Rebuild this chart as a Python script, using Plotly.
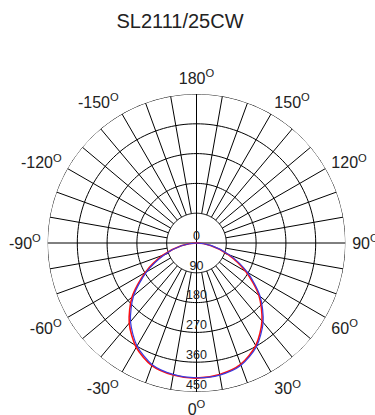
import plotly.graph_objects as go

# Luminous intensity (cd) per C-plane, gamma angle in degrees
gamma = [-90, -80, -70, -60, -50, -40, -30, -20, -10, 0,
         10, 20, 30, 40, 50, 60, 70, 80, 90]
c0_180 = [0, 47, 108, 179, 254, 316, 364, 394, 405, 408,
          403, 390, 358, 308, 246, 172, 102, 43, 0]
c90_270 = [0, 44, 103, 174, 248, 310, 359, 391, 403, 407,
           405, 393, 362, 313, 251, 178, 107, 46, 0]

# Radial rings and their labels
ring_values = [90, 180, 270, 360, 450]
radial_labels = ["0", "90", "180", "270", "360", "450"]
radial_label_r = [0, 90, 180, 270, 360, 450]

# Angular labels
angle_ticks = [0, 30, 60, 90, 120, 150, 180, 210, 240, 270, 300, 330]
angle_text = ["0", "30", "60", "90", "120", "150", "180",
              "-150", "-120", "-90", "-60", "-30"]
spoke_step = 10

FONT = "Liberation Sans, Arial, sans-serif"
W, H = 375, 415
cx, cy, R = 196.5, 243.0, 149.0

fig = go.Figure()

# Concentric rings
ring_theta, ring_r = [], []
for v in ring_values:
    ring_theta += list(range(0, 361, 2)) + [None]
    ring_r += [v] * 181 + [None]
fig.add_trace(go.Scatterpolar(r=ring_r, theta=ring_theta, mode="lines",
                              line=dict(color="black", width=1),
                              hoverinfo="skip", showlegend=False))

# Spokes: main axes run through the centre, the rest start at the first ring
sp_theta, sp_r = [], []
for a in range(0, 360, spoke_step):
    start = 0 if a % 90 == 0 else ring_values[0]
    sp_theta += [a, a, None]
    sp_r += [start, ring_values[-1], None]
fig.add_trace(go.Scatterpolar(r=sp_r, theta=sp_theta, mode="lines",
                              line=dict(color="black", width=1),
                              hoverinfo="skip", showlegend=False))

# Intensity curves
fig.add_trace(go.Scatterpolar(r=c0_180, theta=gamma, mode="lines",
                              line=dict(color="#ff1010", width=1.6,
                                        shape="spline", smoothing=0.8),
                              name="C0-C180", showlegend=False))
fig.add_trace(go.Scatterpolar(r=c90_270, theta=gamma, mode="lines",
                              line=dict(color="#3a3ae0", width=1.2,
                                        shape="spline", smoothing=0.8),
                              name="C90-C270", showlegend=False))

# Radial scale labels along the 0° line
fig.add_trace(go.Scatterpolar(r=radial_label_r, theta=[0] * len(radial_label_r),
                              mode="text", text=radial_labels,
                              textposition="top center",
                              textfont=dict(family=FONT, size=12.5, color="#222"),
                              cliponaxis=False, hoverinfo="skip", showlegend=False))

fig.update_layout(
    width=W, height=H,
    margin=dict(l=0, r=0, t=0, b=0),
    paper_bgcolor="white",
    title=dict(text="SL2111/25CW", x=180 / W, xanchor="center",
               y=1 - 21 / H, yanchor="middle",
               font=dict(family=FONT, size=20, color="#222")),
    polar=dict(
        domain=dict(x=[(cx - R) / W, (cx + R) / W],
                    y=[(H - cy - R) / H, (H - cy + R) / H]),
        bgcolor="white",
        radialaxis=dict(range=[0, ring_values[-1]], visible=False,
                        showgrid=False),
        angularaxis=dict(rotation=270, direction="counterclockwise",
                         showgrid=False, showline=False,
                         ticks="outside", ticklen=3,
                         tickcolor="rgba(0,0,0,0)",
                         tickmode="array", tickvals=angle_ticks,
                         ticktext=[t + "<sup>O</sup>" for t in angle_text],
                         tickfont=dict(family=FONT, size=16, color="#222")),
    ),
)

fig.write_html("out.html")
